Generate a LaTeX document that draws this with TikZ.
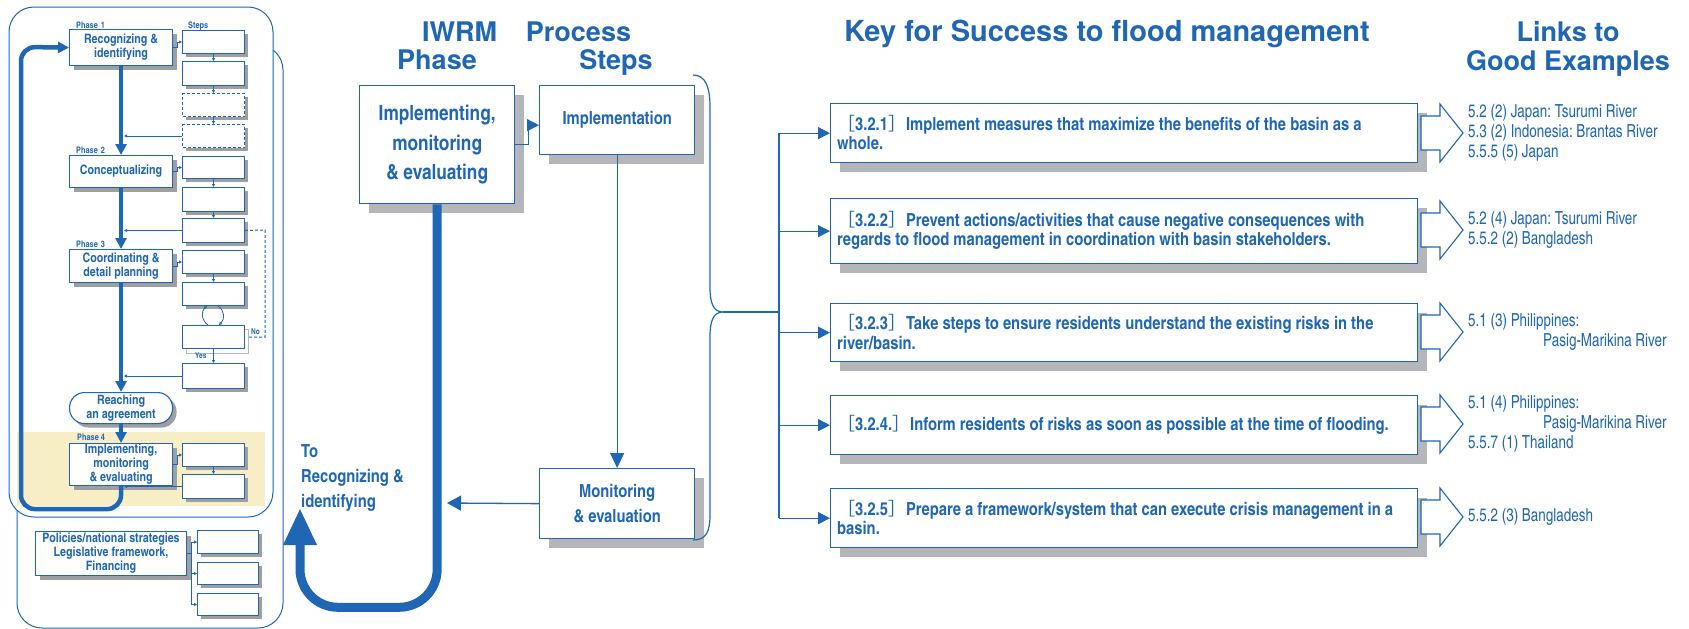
\documentclass[tikz,border=0pt]{standalone}
\usepackage{fontspec}
\setmainfont{TeX Gyre Heros}
\newfontfamily\cnfont{texgyreheroscn}[Extension=.otf,UprightFont=*-regular,BoldFont=*-bold]
\newfontfamily\cnnarrow{texgyreheroscn}[Extension=.otf,UprightFont=*-regular,BoldFont=*-bold,FakeStretch=0.91]
\newfontfamily\cjk{Noto Sans CJK JP}
\usetikzlibrary{arrows.meta,shadows}
\frenchspacing

\definecolor{iwblue}{RGB}{31,103,180}
\definecolor{shadegray}{RGB}{180,182,185}
\definecolor{bandyellow}{RGB}{248,238,198}
\newcommand{\fsz}[2]{\fontsize{#1}{#2}\selectfont}
\newcommand{\kopen}{{\cjk\mdseries ［}}
\newcommand{\kclose}{{\cjk\mdseries ］}}

\tikzset{
  every node/.style={text=iwblue},
  panel/.style={draw=iwblue, fill=white, line width=1pt, rounded corners=25pt},
  phasebox/.style={draw=iwblue, fill=white, line width=1.1pt, align=center, inner sep=0pt,
    minimum width=103pt, font=\cnfont\bfseries\fsz{13}{14},
    general shadow={fill=gray!75, shadow xshift=4pt, shadow yshift=-4pt}},
  stepframe/.style={draw=iwblue, fill=white, line width=1pt, inner sep=0pt, minimum width=62pt},
  stepbox/.style={stepframe, general shadow={fill=gray!75, shadow xshift=3pt, shadow yshift=-3pt}},
  bigbox/.style={draw=iwblue, fill=white, line width=1.3pt, align=center, inner sep=0pt,
    general shadow={fill=shadegray, shadow xshift=9pt, shadow yshift=-9pt}},
  phaselabel/.style={font=\cnfont\bfseries\fsz{9}{10}, inner sep=0pt, anchor=base west},
  title/.style={font=\bfseries\fsz{27}{28}, inner sep=0pt, anchor=base},
  flow/.style={draw=iwblue, line width=4.5pt, -{Triangle[width=11pt,length=11pt]}},
  steparrow/.style={draw=iwblue, line width=0.8pt, -{Triangle[width=3pt,length=3pt]}},
  link/.style={draw=iwblue, line width=1.3pt, -{Triangle[width=12pt,length=12pt]}},
  hollow/.style={draw=iwblue, fill=white, line width=1.1pt},
  keytext/.style={font=\cnfont\bfseries\fsz{18}{19.5}, align=left, inner sep=0pt, anchor=west},
  linktext/.style={font=\cnnarrow\fsz{18}{20}, align=left, inner sep=0pt, anchor=west}
}

\begin{document}
\begin{tikzpicture}[x=1pt,y=-1pt]
\useasboundingbox (0,0) rectangle (1689,629);

% IWRM cycle panel
\draw[panel] (17,45) rectangle (283,628);
\draw[panel] (9,7) rectangle (273,517);
\fill[bandyellow] (17,432) rectangle (265,506);

\node[phasebox, minimum height=36pt, anchor=north west] (p1) at (69,29) {Recognizing \&\\identifying};
\node[phasebox, minimum height=32pt, anchor=north west] (p2) at (69,155) {Conceptualizing};
\node[phasebox, minimum height=33pt, anchor=north west] (p3) at (69,249) {Coordinating \&\\detail planning};
\node[phasebox, rounded corners=15pt, minimum height=31pt, anchor=north west] (reach) at (69,392) {Reaching\\an agreement};
\node[phasebox, minimum height=42pt, anchor=north west] (p4) at (69,443) {Implementing,\\monitoring\\\& evaluating};

\node[phaselabel] (l1) at (76,28) {Phase\,\,1};
\node[phaselabel] (l0) at (188,28) {Steps};
\node[phaselabel] (l2) at (76,153) {Phase\,\,2};
\node[phaselabel] (l3) at (76,247) {Phase\,\,3};
\node[phaselabel] (l4) at (77,440) {Phase 4};

\foreach \n/\top/\bh in {1/30/23,2/61/24,5/156/22,6/187/24,7/218/24,8/250/23,9/282/23,11/363/25,12/443/23,13/474/24}
  \node[stepbox, minimum height=\bh pt, anchor=north west] (s\n) at (182,\top) {};
\foreach \n/\top in {3/93,4/124}
  \node[stepbox, densely dashed, minimum height=23pt, anchor=north west] (s\n) at (182,\top) {};
\draw[gray!55, line width=0.8pt] (186,329) rectangle (248,353);
\node[stepframe, minimum height=23pt, anchor=north west] (s10) at (182,325) {};

\foreach \a/\b in {1/2,2/3,3/4,5/6,6/7,8/9,10/11,12/13}
  \draw[steparrow] (s\a.south) -- (s\b.north);
\draw[steparrow] (s10.north -| 208,0) .. controls (201,320) and (201,311) .. (207,306);
\draw[steparrow] (218,306) .. controls (225,311) and (225,319) .. (s10.north -| 219,0);
\node[phaselabel, font=\cnfont\bfseries\fsz{8}{9}] (yes) at (195,358) {Yes};
\node[phaselabel, font=\cnfont\bfseries\fsz{8}{9}] (no) at (251,334) {No};
\draw[iwblue, line width=1pt, densely dashed] (s7.east) -- (265,230) -- (265,337) -- (249,337);

\foreach \p/\s in {p1/s1,p2/s5,p3/s8,p4/s12}
  \draw[steparrow] (\p.east) -- ++(4,0) |- (\s.west);
\foreach \s in {s4,s7,s11,s13}
  \draw[steparrow, line width=1pt] (\s.west) -- ([xshift=3pt]p1.south |- \s.west);

\draw[flow] (p1) -- (p2);
\draw[flow] (p2) -- (p3);
\draw[flow] (p3) -- (reach);
\draw[flow] (reach) -- (p4);
\draw[flow, rounded corners=14pt] (p4.south) -- ++(0,23) -| (21,47) -- (p1.west);

% policies
\node[phasebox, minimum width=151pt, minimum height=44pt, anchor=north west] (pol) at (35,531) {Policies/national strategies\\Legislative framework,\\Financing};
\node[stepbox, minimum width=61pt, minimum height=23pt, anchor=north west] (b1) at (197,530) {};
\node[stepbox, minimum width=61pt, minimum height=22pt, anchor=north west] (b2) at (197,562) {};
\node[stepbox, minimum width=61pt, minimum height=22pt, anchor=north west] (b3) at (197,593) {};
\coordinate (pj) at (191,553);
\draw[iwblue, line width=1pt] (pol.east |- pj) -- (pj);
\draw[iwblue, line width=1pt] (pj |- b1.west) -- (pj |- b3.west);
\foreach \b in {b1,b2,b3}
  \draw[steparrow] (pj |- \b.west) -- (\b.west);

% phase and process steps
\node[title] (iwrm) at (459.5,41) {IWRM};
\node[title] (phs) at (437,69) {Phase};
\node[title] (proc) at (578.5,41) {Process};
\node[title] (stp) at (616,69) {Steps};

\node[bigbox, minimum width=155pt, minimum height=118pt, anchor=north west, font=\cnfont\bfseries\fsz{21}{29.5}] (iw) at (359,85) {Implementing,\\monitoring\\\& evaluating};
\node[bigbox, minimum width=155pt, minimum height=69pt, anchor=north west, font=\cnfont\bfseries\fsz{18}{25}] (impl) at (539,85) {Implementation};
\node[bigbox, minimum width=155pt, minimum height=70pt, anchor=north west, font=\cnfont\bfseries\fsz{18}{25}] (mon) at (539,468) {Monitoring\\\& evaluation};

\draw[link] (iw.east) -- ++(13,0) |- ([yshift=-5pt]impl.west);
\draw[link, -{Triangle[width=14pt,length=15pt]}] (impl) -- (mon);
\coordinate (back) at (447,503);
\draw[link, -{Triangle[width=15pt,length=14pt]}] (mon.west) -- (back);
\coordinate (ret) at (300,508);
\draw[draw=iwblue, line width=9pt, rounded corners=38pt, -{Triangle[width=31pt,length=37pt]}] (iw.south) -- ++(0,403) -| (ret);
\node[font=\cnfont\bfseries\fsz{18}{25}, align=left, inner sep=0pt, anchor=north west] (to) at (301,444) {To\\Recognizing \&\\identifying};

% brace and keys
\draw[iwblue, line width=1.2pt] (693,75) .. controls (706,75) and (710,88) .. (710,107) -- (710,288)
  .. controls (710,304) and (714,312) .. (723,312) .. controls (714,312) and (710,320) .. (710,336)
  -- (710,515) .. controls (710,532) and (706,540) .. (693,540);
\coordinate (spine) at (779,312);
\draw[iwblue, line width=1.2pt] (723,312) -- (spine);

\node[title, font=\bfseries\fsz{29}{30}] (key) at (1107,41) {Key for Success to flood management};
\node[title] (lnk) at (1568,41) {Links to};
\node[title] (gex) at (1568,70) {Good Examples};

\foreach \k/\top/\bh in {1/103/59,2/198/65,3/303/58,4/395/59,5/488/59}
  \node[bigbox, minimum width=587pt, minimum height=\bh pt, anchor=north west] (k\k) at (830,\top) {};
\draw[iwblue, line width=1.2pt] (spine |- k1.west) -- (spine |- k5.west);
\foreach \k in {1,...,5}
  \draw[link] (spine |- k\k.west) -- (k\k.west);

\node[keytext] (kt1) at (837,132.5) {\kopen 3.2.1\kclose Implement measures that maximize the benefits of the basin as a\\whole.};
\node[keytext] (kt2) at (837,230.5) {\kopen 3.2.2\kclose Prevent actions/activities that cause negative consequences with\\regards to flood management in coordination with basin stakeholders.};
\node[keytext] (kt3) at (837,332) {\kopen 3.2.3\kclose Take steps to ensure residents understand the existing risks in the\\river/basin.};
\node[keytext] (kt4) at (837,424.5) {\kopen 3.2.4.\kclose Inform residents of risks as soon as possible at the time of flooding.};
\node[keytext] (kt5) at (837,517.5) {\kopen 3.2.5\kclose Prepare a framework/system that can execute crisis management in a\\basin.};

\foreach \cy in {133,230,332,424,517}
  \draw[hollow] (1421,\cy-17) -- (1440,\cy-17) -- (1440,\cy-29) -- (1463,\cy)
    -- (1440,\cy+29) -- (1440,\cy+17) -- (1421,\cy+17) -- cycle;

\node[linktext] (e1) at (1468,133) {5.2 (2) Japan: Tsurumi River\\5.3 (2) Indonesia: Brantas River\\5.5.5 (5) Japan};
\node[linktext] (e2) at (1468,230) {5.2 (4) Japan: Tsurumi River\\5.5.2 (2) Bangladesh};
\node[linktext] (e3) at (1468,332) {5.1 (3) Philippines:\\\hspace*{75pt}Pasig-Marikina River};
\node[linktext] (e4) at (1468,424) {5.1 (4) Philippines:\\\hspace*{75pt}Pasig-Marikina River\\5.5.7 (1) Thailand};
\node[linktext] (e5) at (1468,517) {5.5.2 (3) Bangladesh};
\end{tikzpicture}
\end{document}
